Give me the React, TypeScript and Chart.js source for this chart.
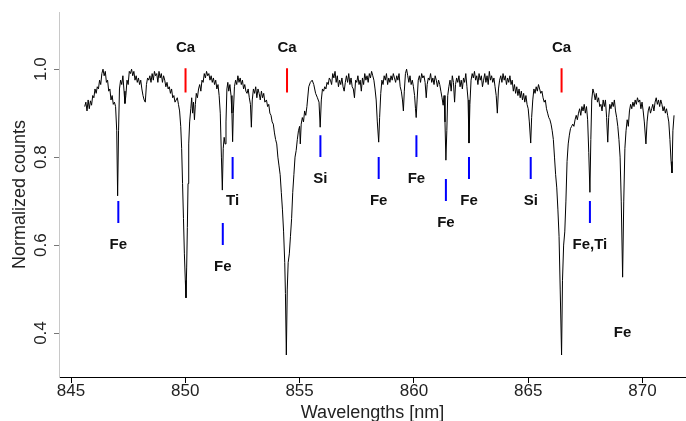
import React, { useEffect, useRef } from "react";
import { Chart, registerables } from "chart.js";

Chart.register(...registerables);

// Spectrum: [wavelength nm, normalized counts]
const spectrumPoints: [number, number][] = [
  [845.60, 0.915], [845.65, 0.925], [845.70, 0.905], [845.75, 0.93], [845.80, 0.91],
  [845.85, 0.928], [845.90, 0.918], [845.95, 0.94], [846.00, 0.935], [846.05, 0.955],
  [846.10, 0.945], [846.15, 0.96], [846.20, 0.955], [846.25, 0.975], [846.30, 0.965],
  [846.35, 0.99], [846.40, 1.0], [846.45, 0.985], [846.50, 0.995], [846.55, 0.97],
  [846.60, 0.975], [846.65, 0.95], [846.70, 0.955], [846.75, 0.93], [846.80, 0.94],
  [846.85, 0.92], [846.90, 0.925], [846.95, 0.915], [847.00, 0.86], [847.04, 0.712],
  [847.08, 0.86], [847.12, 0.955], [847.17, 0.975], [847.22, 0.965], [847.27, 0.985],
  [847.32, 0.95], [847.36, 0.922], [847.40, 0.94], [847.45, 0.975], [847.50, 0.965],
  [847.55, 0.995], [847.60, 0.99], [847.65, 1.0], [847.70, 0.985], [847.75, 0.995],
  [847.80, 0.975], [847.85, 0.985], [847.90, 0.97], [847.95, 0.98], [848.00, 0.965],
  [848.05, 0.975], [848.10, 0.955], [848.15, 0.94], [848.20, 0.93], [848.25, 0.925],
  [848.30, 0.965], [848.35, 0.98], [848.40, 0.975], [848.45, 0.985], [848.50, 0.97],
  [848.55, 0.99], [848.60, 0.975], [848.65, 0.995], [848.70, 0.985], [848.75, 0.99],
  [848.80, 0.97], [848.85, 0.995], [848.90, 0.98], [848.95, 0.99], [849.00, 0.97],
  [849.05, 0.985], [849.10, 0.975], [849.15, 0.96], [849.20, 0.97], [849.25, 0.955],
  [849.30, 0.96], [849.35, 0.945], [849.40, 0.955], [849.45, 0.935], [849.50, 0.94],
  [849.55, 0.925], [849.60, 0.93], [849.65, 0.935], [849.70, 0.92], [849.75, 0.905],
  [849.80, 0.87], [849.84, 0.82], [849.88, 0.74], [849.92, 0.66], [849.96, 0.58],
  [850.00, 0.52], [850.03, 0.48], [850.06, 0.55], [850.09, 0.64], [850.12, 0.74],
  [850.15, 0.83], [850.19, 0.88], [850.24, 0.91], [850.28, 0.935], [850.32, 0.90],
  [850.36, 0.925], [850.40, 0.885], [850.44, 0.92], [850.48, 0.945], [850.53, 0.935],
  [850.58, 0.955], [850.63, 0.965], [850.68, 0.95], [850.73, 0.975], [850.78, 0.97],
  [850.83, 0.99], [850.88, 0.98], [850.93, 0.995], [850.98, 0.985], [851.03, 0.99],
  [851.08, 0.975], [851.13, 0.985], [851.18, 0.97], [851.23, 0.98], [851.28, 0.965],
  [851.33, 0.975], [851.38, 0.955], [851.43, 0.965], [851.48, 0.94], [851.53, 0.90],
  [851.58, 0.80], [851.62, 0.725], [851.66, 0.82], [851.70, 0.845], [851.74, 0.83],
  [851.78, 0.88], [851.82, 0.955], [851.86, 0.97], [851.90, 0.95], [851.95, 0.965],
  [852.00, 0.94], [852.04, 0.90], [852.07, 0.835], [852.10, 0.90], [852.15, 0.96],
  [852.20, 0.975], [852.25, 0.965], [852.30, 0.985], [852.35, 0.97], [852.40, 0.98],
  [852.45, 0.965], [852.50, 0.975], [852.55, 0.955], [852.60, 0.965], [852.65, 0.95],
  [852.70, 0.945], [852.75, 0.955], [852.80, 0.935], [852.85, 0.92], [852.89, 0.868],
  [852.93, 0.93], [852.98, 0.955], [853.03, 0.945], [853.08, 0.96], [853.13, 0.935],
  [853.18, 0.955], [853.23, 0.945], [853.28, 0.93], [853.33, 0.95], [853.38, 0.935],
  [853.43, 0.945], [853.48, 0.925], [853.55, 0.93], [853.60, 0.915], [853.65, 0.92],
  [853.70, 0.90], [853.75, 0.895], [853.80, 0.88], [853.85, 0.875], [853.90, 0.855],
  [853.95, 0.84], [854.00, 0.83], [854.05, 0.80], [854.10, 0.78], [854.15, 0.76],
  [854.20, 0.72], [854.25, 0.68], [854.30, 0.63], [854.35, 0.56], [854.38, 0.49],
  [854.42, 0.35], [854.46, 0.50], [854.50, 0.56], [854.55, 0.58], [854.60, 0.62],
  [854.65, 0.66], [854.70, 0.72], [854.75, 0.76], [854.80, 0.80], [854.85, 0.815],
  [854.90, 0.84], [854.95, 0.86], [855.00, 0.87], [855.03, 0.83], [855.07, 0.875],
  [855.12, 0.89], [855.17, 0.88], [855.22, 0.905], [855.27, 0.895], [855.32, 0.915],
  [855.40, 0.96], [855.47, 0.97], [855.55, 0.975], [855.62, 0.965], [855.70, 0.945],
  [855.78, 0.935], [855.85, 0.925], [855.90, 0.868], [855.95, 0.93], [856.00, 0.955],
  [856.05, 0.95], [856.10, 0.96], [856.15, 0.955], [856.20, 0.97], [856.25, 0.965],
  [856.30, 0.98], [856.35, 0.975], [856.40, 0.965], [856.45, 0.99], [856.50, 0.98],
  [856.55, 0.995], [856.60, 0.97], [856.65, 0.985], [856.70, 0.96], [856.75, 0.975],
  [856.80, 0.965], [856.85, 0.98], [856.90, 0.96], [856.95, 0.95], [857.00, 0.97],
  [857.05, 0.985], [857.10, 0.97], [857.15, 0.99], [857.20, 0.965], [857.25, 0.98],
  [857.30, 0.96], [857.35, 0.955], [857.40, 0.935], [857.45, 0.975], [857.50, 0.97],
  [857.55, 0.985], [857.60, 0.965], [857.65, 0.975], [857.70, 0.95], [857.75, 0.98],
  [857.80, 0.965], [857.85, 0.99], [857.90, 0.975], [857.95, 0.985], [858.00, 0.97],
  [858.05, 0.99], [858.10, 0.98], [858.15, 0.995], [858.20, 0.985], [858.25, 0.975],
  [858.30, 0.955], [858.35, 0.93], [858.40, 0.88], [858.46, 0.834], [858.50, 0.89],
  [858.55, 0.945], [858.60, 0.975], [858.65, 0.965], [858.70, 0.985], [858.75, 0.975],
  [858.80, 0.99], [858.85, 0.965], [858.90, 0.98], [858.95, 0.97], [859.00, 0.985],
  [859.05, 0.975], [859.10, 0.99], [859.15, 0.98], [859.20, 0.97], [859.25, 0.985],
  [859.30, 0.975], [859.35, 0.99], [859.40, 0.96], [859.45, 0.95], [859.50, 0.93],
  [859.54, 0.905], [859.58, 0.95], [859.63, 0.99], [859.68, 1.0], [859.73, 0.985],
  [859.78, 0.97], [859.83, 0.985], [859.88, 0.965], [859.93, 0.975], [859.98, 0.96],
  [860.03, 0.94], [860.07, 0.91], [860.10, 0.89], [860.14, 0.93], [860.19, 0.975],
  [860.24, 0.985], [860.29, 0.97], [860.34, 0.99], [860.39, 0.98], [860.44, 0.985],
  [860.49, 0.97], [860.54, 0.935], [860.58, 0.965], [860.63, 0.98], [860.68, 0.975],
  [860.73, 0.99], [860.78, 0.97], [860.83, 0.98], [860.88, 0.965], [860.93, 0.985],
  [860.98, 0.975], [861.03, 0.96], [861.08, 0.975], [861.13, 0.965], [861.18, 0.95],
  [861.23, 0.935], [861.28, 0.918], [861.32, 0.94], [861.36, 0.88], [861.40, 0.793],
  [861.44, 0.86], [861.48, 0.94], [861.53, 0.96], [861.58, 0.975], [861.63, 0.95],
  [861.68, 0.985], [861.73, 0.97], [861.78, 0.925], [861.82, 0.965], [861.87, 0.98],
  [861.92, 0.97], [861.97, 0.985], [862.02, 0.96], [862.07, 0.975], [862.12, 0.955],
  [862.17, 0.98], [862.22, 0.97], [862.27, 0.99], [862.32, 0.96], [862.37, 0.93],
  [862.41, 0.832], [862.45, 0.92], [862.50, 0.975], [862.55, 0.99], [862.60, 0.98],
  [862.65, 0.995], [862.70, 0.975], [862.75, 0.985], [862.80, 0.965], [862.85, 0.99],
  [862.90, 0.975], [862.95, 0.985], [863.00, 0.96], [863.05, 0.975], [863.10, 0.99],
  [863.15, 0.97], [863.20, 0.985], [863.25, 0.965], [863.30, 0.995], [863.35, 0.975],
  [863.40, 0.985], [863.45, 0.97], [863.50, 0.98], [863.55, 0.96], [863.60, 0.94],
  [863.65, 0.90], [863.70, 0.955], [863.75, 0.975], [863.80, 0.985], [863.85, 0.97],
  [863.90, 0.99], [863.95, 0.975], [864.00, 0.985], [864.05, 0.965], [864.10, 0.98],
  [864.15, 0.97], [864.20, 0.985], [864.25, 0.965], [864.30, 0.975], [864.35, 0.95],
  [864.40, 0.965], [864.45, 0.945], [864.50, 0.96], [864.55, 0.94], [864.60, 0.955],
  [864.65, 0.935], [864.70, 0.95], [864.75, 0.93], [864.80, 0.945], [864.85, 0.925],
  [864.90, 0.94], [864.95, 0.92], [865.00, 0.91], [865.05, 0.88], [865.11, 0.832],
  [865.15, 0.89], [865.20, 0.93], [865.25, 0.955], [865.30, 0.945], [865.35, 0.96],
  [865.40, 0.95], [865.45, 0.965], [865.50, 0.955], [865.55, 0.945], [865.60, 0.95],
  [865.65, 0.935], [865.70, 0.925], [865.75, 0.93], [865.80, 0.91], [865.85, 0.90],
  [865.90, 0.89], [865.95, 0.885], [866.00, 0.875], [866.05, 0.86], [866.10, 0.84],
  [866.15, 0.80], [866.20, 0.76], [866.25, 0.73], [866.30, 0.68], [866.35, 0.62],
  [866.40, 0.50], [866.46, 0.35], [866.50, 0.52], [866.55, 0.60], [866.60, 0.63],
  [866.65, 0.70], [866.70, 0.79], [866.75, 0.83], [866.80, 0.85], [866.85, 0.865],
  [866.90, 0.87], [866.95, 0.875], [867.00, 0.87], [867.05, 0.885], [867.10, 0.895],
  [867.15, 0.885], [867.20, 0.90], [867.25, 0.91], [867.30, 0.895], [867.35, 0.915],
  [867.40, 0.905], [867.45, 0.92], [867.50, 0.90], [867.55, 0.915], [867.60, 0.885],
  [867.65, 0.81], [867.70, 0.72], [867.74, 0.84], [867.78, 0.93], [867.83, 0.955],
  [867.88, 0.945], [867.93, 0.93], [867.98, 0.945], [868.03, 0.925], [868.08, 0.935],
  [868.13, 0.915], [868.18, 0.92], [868.23, 0.905], [868.28, 0.93], [868.33, 0.915],
  [868.38, 0.93], [868.43, 0.89], [868.48, 0.834], [868.52, 0.89], [868.57, 0.92],
  [868.62, 0.91], [868.67, 0.925], [868.72, 0.915], [868.77, 0.93], [868.82, 0.905],
  [868.87, 0.89], [868.92, 0.87], [868.97, 0.84], [869.02, 0.80], [869.07, 0.70],
  [869.13, 0.527], [869.18, 0.70], [869.23, 0.82], [869.28, 0.86], [869.33, 0.885],
  [869.38, 0.87], [869.43, 0.905], [869.48, 0.92], [869.53, 0.91], [869.58, 0.925],
  [869.63, 0.915], [869.68, 0.93], [869.73, 0.92], [869.78, 0.935], [869.83, 0.925],
  [869.88, 0.93], [869.93, 0.91], [869.98, 0.925], [870.03, 0.905], [870.08, 0.88],
  [870.15, 0.83], [870.20, 0.88], [870.25, 0.905], [870.30, 0.915], [870.35, 0.90],
  [870.40, 0.91], [870.45, 0.92], [870.50, 0.905], [870.55, 0.925], [870.60, 0.935],
  [870.65, 0.92], [870.70, 0.93], [870.75, 0.915], [870.80, 0.93], [870.85, 0.92],
  [870.90, 0.905], [870.95, 0.915], [871.00, 0.90], [871.05, 0.91], [871.10, 0.895],
  [871.15, 0.88], [871.20, 0.84], [871.25, 0.79], [871.29, 0.764], [871.33, 0.86],
  [871.38, 0.895],
];

// Axis ticks
const xTicks = [845, 850, 855, 860, 865, 870];
const yTicks = [0.4, 0.6, 0.8, 1.0];
const yTickLabels = ["0.4", "0.6", "0.8", "1.0"];

// Ca (red) markers
const caWavelengths = [850.01, 854.45, 866.46];
const caMarkTop = 1.002;
const caMarkBottom = 0.947;
const caLabelValue = 1.048;

// Other (blue) markers
const lineNames = ["Fe", "Fe", "Ti", "Si", "Fe", "Fe", "Fe", "Fe", "Si", "Fe,Ti"];
const lineWavelengths = [847.07, 851.64, 852.07, 855.91, 858.46, 860.11, 861.40, 862.41, 865.11, 867.70];
const lineMarkTop = [0.70, 0.65, 0.80, 0.85, 0.80, 0.85, 0.75, 0.80, 0.80, 0.70];
const lineMarkBottom = [0.65, 0.60, 0.75, 0.80, 0.75, 0.80, 0.70, 0.75, 0.75, 0.65];
const lineLabelValue = [0.60, 0.55, 0.70, 0.75, 0.70, 0.75, 0.65, 0.70, 0.70, 0.60];

// Label without marker
const extraNames = ["Fe"];
const extraWavelengths = [869.13];
const extraLabelValue = [0.40];

const FONT = '"Liberation Sans", Arial, Helvetica, sans-serif';

export default function App() {
  const canvasRef = useRef<HTMLCanvasElement | null>(null);

  useEffect(() => {
    const canvas = canvasRef.current;
    if (!canvas) return;

    const markDatasets: any[] = [];
    caWavelengths.forEach((w) => {
      markDatasets.push({
        data: [{ x: w, y: caMarkTop }, { x: w, y: caMarkBottom }],
        borderColor: "#ff0000",
        borderWidth: 2,
        pointRadius: 0,
        showLine: true,
      });
    });
    lineWavelengths.forEach((w, i) => {
      markDatasets.push({
        data: [{ x: w, y: lineMarkTop[i] }, { x: w, y: lineMarkBottom[i] }],
        borderColor: "#0000ff",
        borderWidth: 2,
        pointRadius: 0,
        showLine: true,
      });
    });

    const overlay = {
      id: "overlay",
      afterDatasetsDraw(chart: any) {
        const { ctx, chartArea } = chart;
        const xs = chart.scales.x;
        const ys = chart.scales.y;
        ctx.save();
        ctx.fillStyle = "#111";
        ctx.textAlign = "center";
        ctx.textBaseline = "middle";
        ctx.font = `bold 15px ${FONT}`;
        caWavelengths.forEach((w) => {
          ctx.fillText("Ca", xs.getPixelForValue(w), ys.getPixelForValue(caLabelValue));
        });
        lineWavelengths.forEach((w, i) => {
          ctx.fillText(lineNames[i], xs.getPixelForValue(w), ys.getPixelForValue(lineLabelValue[i]));
        });
        extraWavelengths.forEach((w, i) => {
          ctx.fillText(extraNames[i], xs.getPixelForValue(w), ys.getPixelForValue(extraLabelValue[i]));
        });

        // rotated y tick labels
        ctx.fillStyle = "#222";
        ctx.font = `17px ${FONT}`;
        yTicks.forEach((v, i) => {
          ctx.save();
          ctx.translate(chartArea.left - 18, ys.getPixelForValue(v));
          ctx.rotate(-Math.PI / 2);
          ctx.fillText(yTickLabels[i], 0, 0);
          ctx.restore();
        });

        // y axis title
        ctx.font = `18px ${FONT}`;
        ctx.save();
        ctx.translate(20, (chartArea.top + chartArea.bottom) / 2);
        ctx.rotate(-Math.PI / 2);
        ctx.fillText("Normalized counts", 0, 0);
        ctx.restore();

        // x axis title
        ctx.textBaseline = "alphabetic";
        ctx.fillText("Wavelengths [nm]", (chartArea.left + chartArea.right) / 2, chartArea.bottom + 41);
        ctx.restore();
      },
    };

    const chart = new Chart(canvas, {
      type: "scatter",
      data: {
        datasets: [
          {
            data: spectrumPoints.map(([x, y]) => ({ x, y })),
            borderColor: "#000",
            borderWidth: 1,
            pointRadius: 0,
            showLine: true,
            tension: 0,
          },
          ...markDatasets,
        ],
      },
      options: {
        animation: false,
        responsive: false,
        devicePixelRatio: 1,
        layout: { padding: { top: 12, right: 0, bottom: 0, left: 0 } },
        plugins: { legend: { display: false }, tooltip: { enabled: false } },
        events: [],
        scales: {
          x: {
            type: "linear",
            min: 844.475,
            max: 871.903,
            afterBuildTicks: (scale: any) => {
              scale.ticks = xTicks.map((v) => ({ value: v }));
            },
            afterFit: (scale: any) => {
              scale.height = 44;
            },
            grid: {
              display: true,
              drawOnChartArea: false,
              drawTicks: true,
              tickLength: 6,
              color: "#000",
            },
            border: { display: true, color: "#000", width: 1 },
            ticks: {
              color: "#222",
              font: { family: FONT, size: 17 },
              padding: -2,
              maxRotation: 0,
              autoSkip: false,
              callback: (v: any) => String(v),
            },
          },
          y: {
            type: "linear",
            min: 0.3,
            max: 1.13,
            afterBuildTicks: (scale: any) => {
              scale.ticks = yTicks.map((v) => ({ value: v }));
            },
            afterFit: (scale: any) => {
              scale.width = 59;
            },
            grid: {
              display: true,
              drawOnChartArea: false,
              drawTicks: true,
              tickLength: 5,
              color: "#777",
            },
            border: { display: true, color: "#c8c8c8", width: 1 },
            ticks: { display: false },
          },
        },
      },
      plugins: [overlay],
    } as any);

    return () => chart.destroy();
  }, []);

  return (
    <div style={{ position: "fixed", left: 0, top: 0, width: 686, height: 421, background: "#fff" }}>
      <canvas ref={canvasRef} width={686} height={421} style={{ width: 686, height: 421, display: "block" }} />
    </div>
  );
}
